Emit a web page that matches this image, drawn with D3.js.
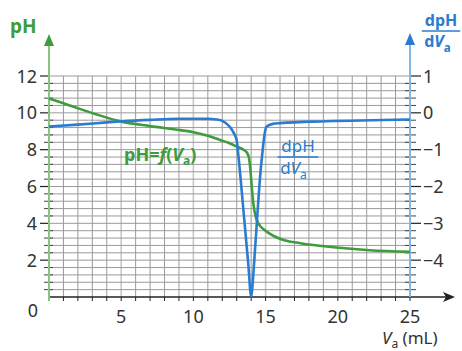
<!DOCTYPE html>
<html>
<head>
<meta charset="utf-8">
<script src="https://cdn.jsdelivr.net/npm/d3@7"></script>
<style>
  body { margin: 0; background: #fff; }
  svg text { font-family: "Noto Sans", "Open Sans", sans-serif; }
</style>
</head>
<body>
<svg id="chart" width="462" height="351"></svg>
<script>
// pH curve
const phVolumes = [0, 1, 1.7, 3.3, 5.1, 7, 9.1, 10, 11, 11.8, 12.5, 13, 13.5, 13.7, 13.85, 13.95, 14.05, 14.15, 14.3, 14.5, 14.95, 15.6, 16.3, 17.4, 19.7, 22.2, 25];
const phValues  = [10.78, 10.52, 10.33, 9.91, 9.51, 9.28, 9.06, 8.95, 8.76, 8.54, 8.35, 8.17, 7.98, 7.85, 7.55, 6.9, 5.9, 5.1, 4.4, 4.0, 3.62, 3.3, 3.08, 2.92, 2.7, 2.54, 2.45];

// derivative dpH/dVa
const dVolumes = [0, 2, 4, 5.1, 7, 9, 11, 11.6, 12, 12.5, 12.8, 13, 13.1, 13.5, 13.8, 14, 14.2, 14.42, 14.66, 14.8, 14.92, 15.07, 15.5, 16, 19.2, 25];
const dValues  = [-0.37, -0.32, -0.26, -0.23, -0.19, -0.16, -0.16, -0.18, -0.22, -0.37, -0.55, -0.75, -1.1, -2.8, -4.1, -4.98, -4.1, -2.82, -1.55, -1.0, -0.6, -0.37, -0.3, -0.28, -0.23, -0.18];

const xTicks = [5, 10, 15, 20, 25];
const leftTicks = [2, 4, 6, 8, 10, 12];
const rightTicks = [1, 0, -1, -2, -3, -4];

const GREEN = '#3f9c3c', GREEN_AXIS = '#86c682';
const BLUE = '#2a7cd0', BLUE_AXIS = '#86b6e6';
const INK = '#333';

const svg = d3.select('#chart');

const x = d3.scaleLinear().domain([0, 25]).range([49, 410]);
const yL = d3.scaleLinear().domain([0, 12]).range([297, 76]);
const yR = d3.scaleLinear().domain([-5, 1]).range([297, 76]);

/* ── Grid ─────────────────────────────────────────── */

const grid = svg.append('g');
grid.selectAll('line.v')
  .data(d3.range(1, 25))
  .join('line')
  .attr('x1', d => x(d)).attr('x2', d => x(d))
  .attr('y1', yL(0)).attr('y2', yL(12))
  .attr('stroke', d => d % 5 === 0 ? '#c9c9c9' : '#9a9a9a')
  .attr('stroke-width', d => d % 5 === 0 ? 1.6 : 1);

grid.selectAll('line.h')
  .data(d3.range(1, 31).map(i => i * 0.4))
  .join('line')
  .attr('x1', x(0)).attr('x2', x(25))
  .attr('y1', d => yL(d)).attr('y2', d => yL(d))
  .attr('stroke', '#9a9a9a')
  .attr('stroke-width', 1);

/* ── Axes ─────────────────────────────────────────── */

// x axis
svg.append('line')
  .attr('x1', x(0)).attr('x2', 448)
  .attr('y1', yL(0)).attr('y2', yL(0))
  .attr('stroke', '#222').attr('stroke-width', 1.3);
svg.append('path')
  .attr('d', `M455,${yL(0)} L443,${yL(0) - 5} L446,${yL(0)} L443,${yL(0) + 5} Z`)
  .attr('fill', '#222');
svg.selectAll('line.xt')
  .data(d3.range(1, 26))
  .join('line')
  .attr('x1', d => x(d)).attr('x2', d => x(d))
  .attr('y1', yL(0)).attr('y2', yL(0) + 4)
  .attr('stroke', '#222').attr('stroke-width', 1);
svg.selectAll('text.xl')
  .data(xTicks)
  .join('text')
  .attr('x', d => x(d)).attr('y', 323)
  .attr('text-anchor', 'middle')
  .attr('font-size', 18).attr('fill', INK)
  .text(d => d);
svg.append('text')
  .attr('x', 33).attr('y', 317)
  .attr('text-anchor', 'middle')
  .attr('font-size', 18).attr('fill', INK)
  .text('0');

const xl = svg.append('text')
  .attr('x', 382).attr('y', 344)
  .attr('font-size', 17).attr('fill', INK);
xl.append('tspan').attr('font-style', 'italic').text('V');
xl.append('tspan').attr('font-size', 12).attr('dy', 4).text('a');
xl.append('tspan').attr('dy', -4).text(' (mL)');

// left pH axis
svg.selectAll('line.lm')
  .data(d3.range(1, 31).map(i => i * 0.4).filter(v => Math.abs(v / 2 - Math.round(v / 2)) > 0.01))
  .join('line')
  .attr('x1', 44).attr('x2', 53)
  .attr('y1', d => yL(d)).attr('y2', d => yL(d))
  .attr('stroke', '#444').attr('stroke-width', 1);
svg.selectAll('line.lM')
  .data(leftTicks)
  .join('line')
  .attr('x1', 40).attr('x2', 50)
  .attr('y1', d => yL(d)).attr('y2', d => yL(d))
  .attr('stroke', '#222').attr('stroke-width', 1.2);
svg.selectAll('text.ll')
  .data(leftTicks)
  .join('text')
  .attr('x', 37).attr('y', d => yL(d) + 6.5)
  .attr('text-anchor', 'end')
  .attr('font-size', 18).attr('fill', INK)
  .text(d => d);
svg.append('line')
  .attr('x1', x(0)).attr('x2', x(0))
  .attr('y1', yL(0) + 4).attr('y2', 42)
  .attr('stroke', GREEN_AXIS).attr('stroke-width', 2);
svg.append('path')
  .attr('d', `M${x(0)},34 L${x(0) - 5},46 L${x(0) + 5},46 Z`)
  .attr('fill', GREEN);
svg.append('text')
  .attr('x', 10).attr('y', 33)
  .attr('font-size', 19).attr('font-weight', 'bold').attr('fill', GREEN)
  .text('pH');

// right dpH/dVa axis
svg.selectAll('line.rm')
  .data(d3.range(-24, 5).map(i => i * 0.2).filter(v => Math.abs(v - Math.round(v)) > 0.01))
  .join('line')
  .attr('x1', 405).attr('x2', 416)
  .attr('y1', d => yR(d)).attr('y2', d => yR(d))
  .attr('stroke', '#444').attr('stroke-width', 1);
svg.selectAll('line.rM')
  .data(rightTicks)
  .join('line')
  .attr('x1', 409).attr('x2', 421)
  .attr('y1', d => yR(d)).attr('y2', d => yR(d))
  .attr('stroke', '#222').attr('stroke-width', 1.2);
svg.selectAll('text.rl')
  .data(rightTicks)
  .join('text')
  .attr('x', 423).attr('y', d => yR(d) + 6.5)
  .attr('font-size', 18).attr('fill', INK)
  .text(d => d < 0 ? '\u2212' + Math.abs(d) : d);
svg.append('line')
  .attr('x1', x(25)).attr('x2', x(25))
  .attr('y1', yL(0)).attr('y2', 42)
  .attr('stroke', BLUE_AXIS).attr('stroke-width', 2);
svg.append('path')
  .attr('d', `M${x(25)},33 L${x(25) - 5},45 L${x(25) + 5},45 Z`)
  .attr('fill', BLUE);

function fraction(cx, top, size, weight) {
  const g = svg.append('g').attr('fill', BLUE).attr('font-weight', weight);
  g.append('text')
    .attr('x', cx).attr('y', top + size * 0.8)
    .attr('text-anchor', 'middle').attr('font-size', size)
    .text('dpH');
  g.append('line')
    .attr('x1', cx - size * 1.2).attr('x2', cx + size * 1.2)
    .attr('y1', top + size + 2).attr('y2', top + size + 2)
    .attr('stroke', BLUE).attr('stroke-width', 1.4);
  const t = g.append('text')
    .attr('x', cx - size * 1.05).attr('y', top + size * 2 + 2)
    .attr('font-size', size);
  t.append('tspan').text('d');
  t.append('tspan').attr('font-style', 'italic').text('V');
  t.append('tspan').attr('font-size', size * 0.72).attr('dy', size * 0.3).text('a');
}
fraction(441, 13, 16, 'bold');
fraction(298, 138, 17, 'normal');

/* ── Curves ───────────────────────────────────────── */

const phLine = d3.line()
  .x(d => x(d[0])).y(d => yL(d[1]))
  .curve(d3.curveMonotoneX);
svg.append('path')
  .datum(d3.zip(phVolumes, phValues))
  .attr('d', phLine)
  .attr('fill', 'none').attr('stroke', GREEN).attr('stroke-width', 2.6);

const dLine = d3.line()
  .x(d => x(d[0])).y(d => yR(d[1]))
  .curve(d3.curveMonotoneX);
svg.append('path')
  .datum(d3.zip(dVolumes, dValues))
  .attr('d', dLine)
  .attr('fill', 'none').attr('stroke', BLUE).attr('stroke-width', 2.6)
  .attr('stroke-linejoin', 'round');

// label pH = f(Va)
const pl = svg.append('text')
  .attr('x', 124).attr('y', 161)
  .attr('font-size', 18).attr('font-weight', 'bold').attr('fill', GREEN);
pl.append('tspan').text('pH=');
pl.append('tspan').attr('font-style', 'italic').text('f');
pl.append('tspan').text('(');
pl.append('tspan').attr('font-style', 'italic').text('V');
pl.append('tspan').attr('font-size', 12).attr('dy', 4).text('a');
pl.append('tspan').attr('dy', -4).text(')');
</script>
</body>
</html>
